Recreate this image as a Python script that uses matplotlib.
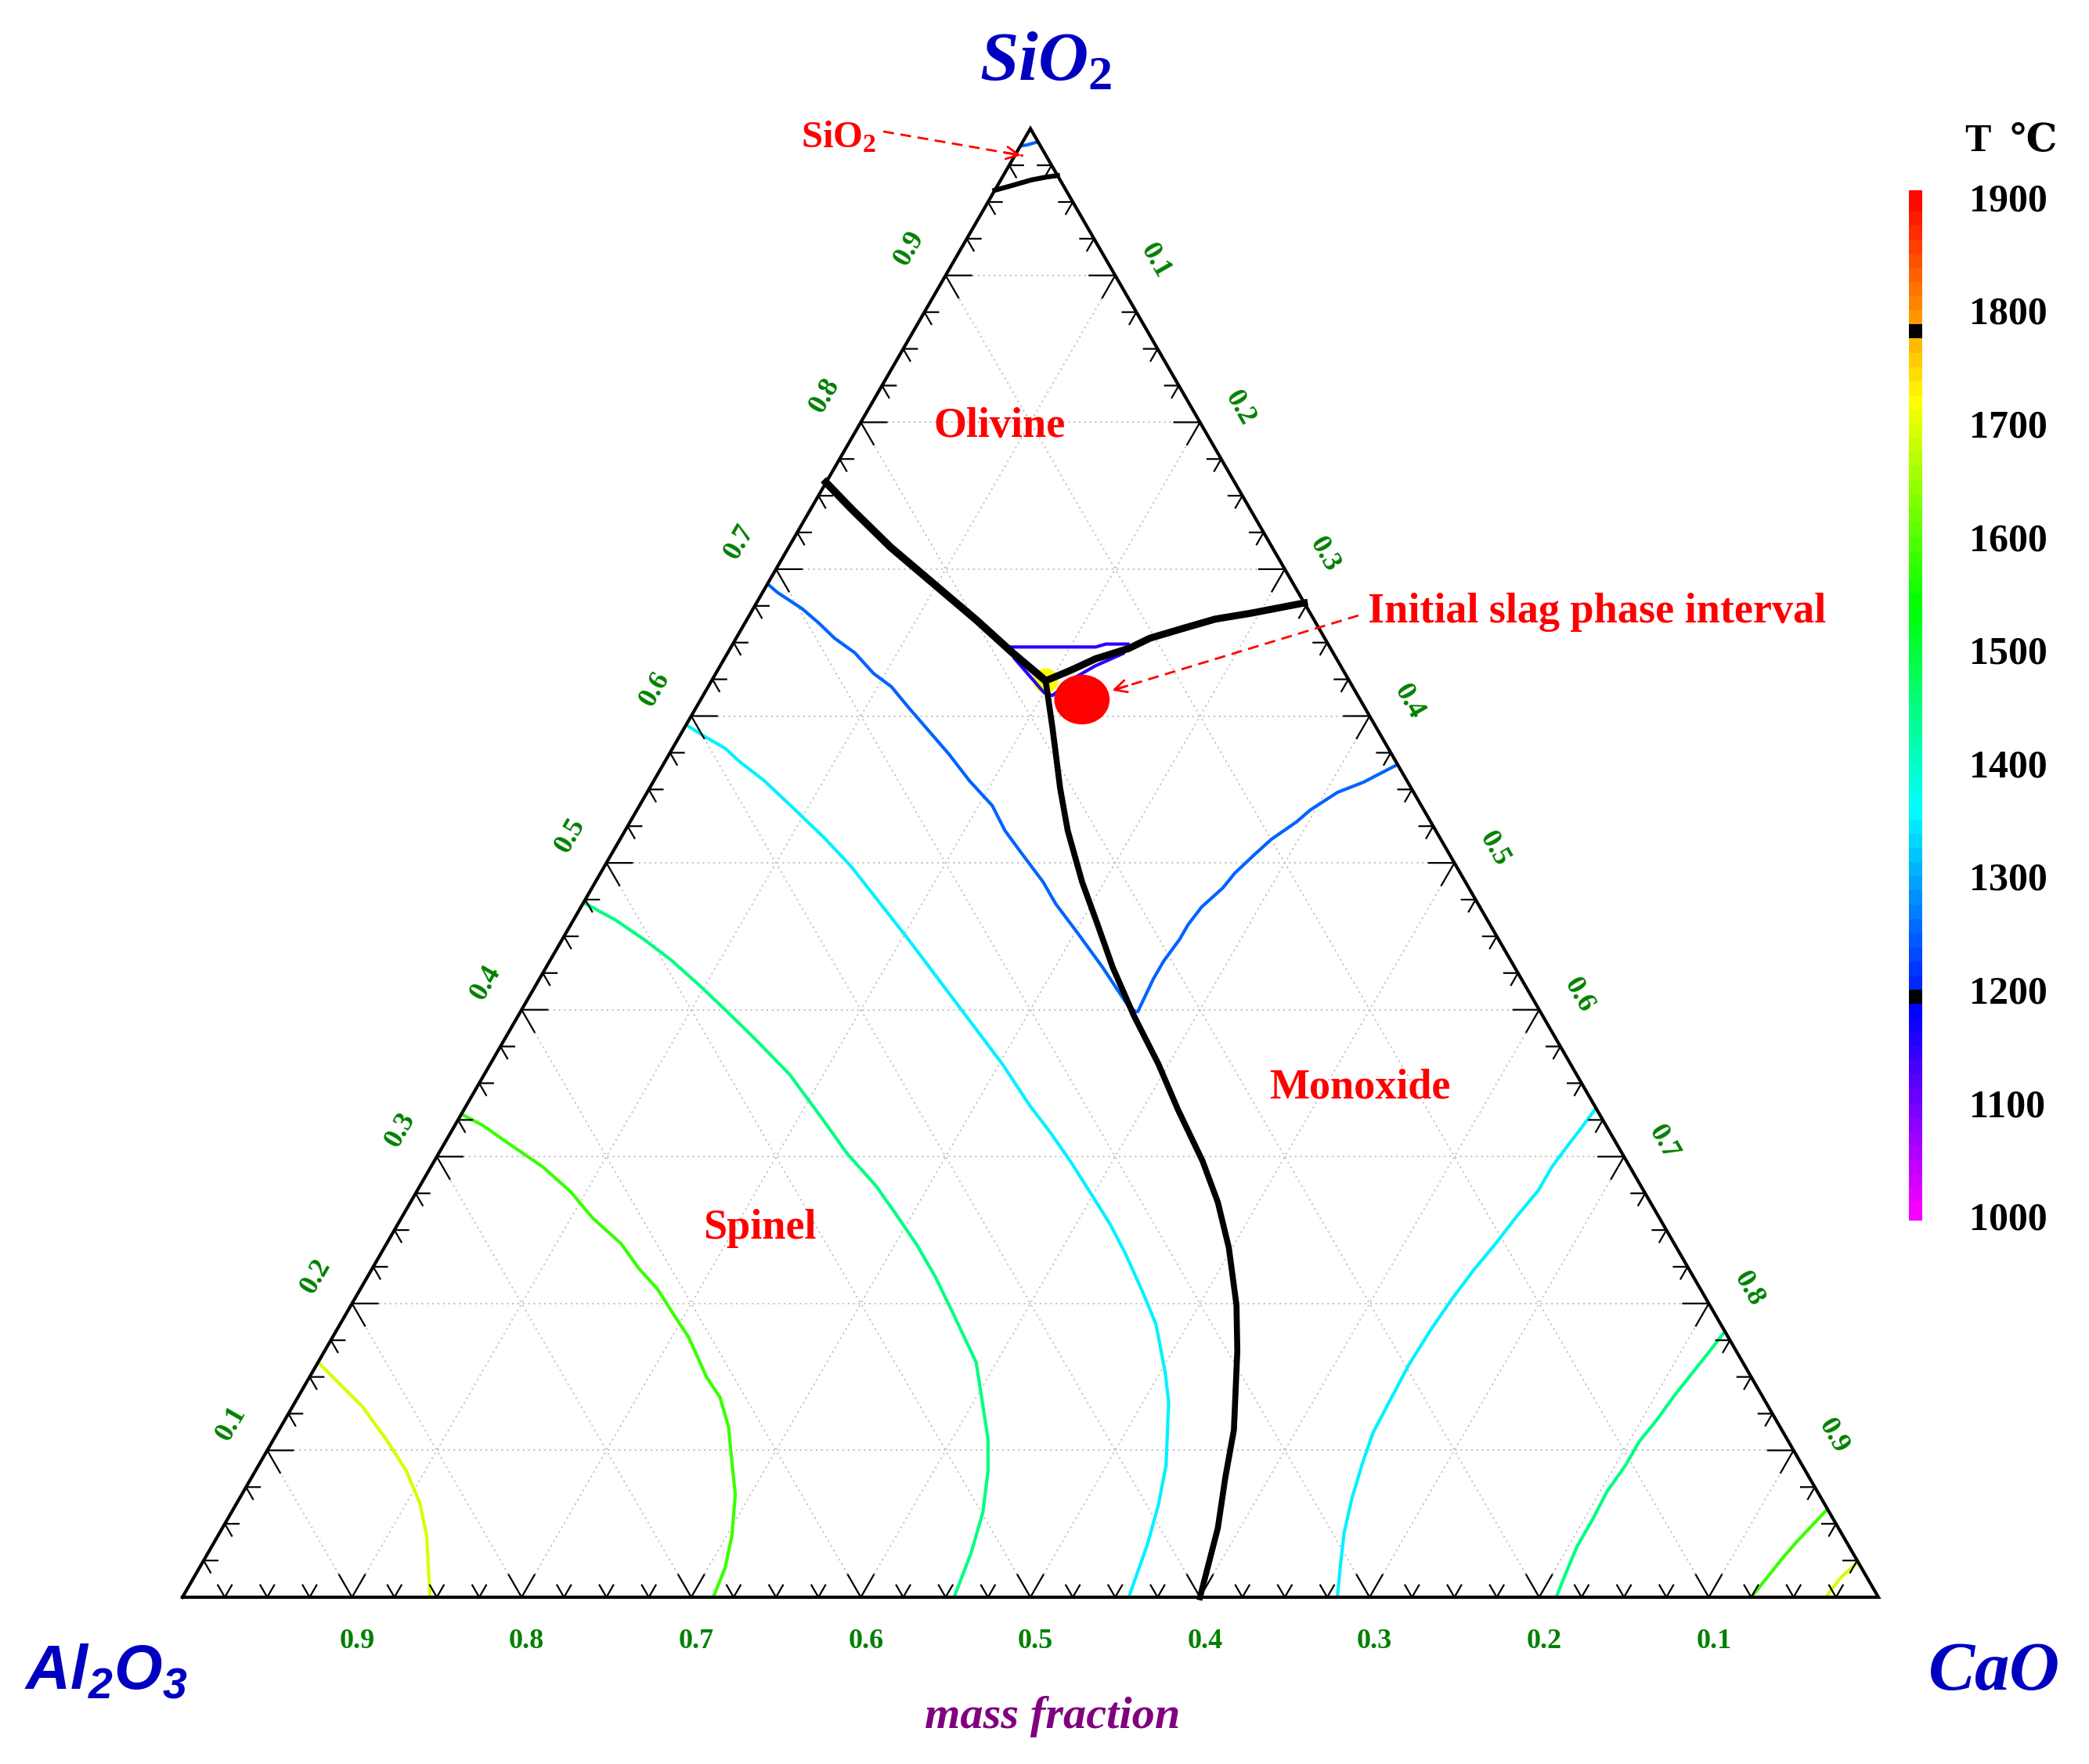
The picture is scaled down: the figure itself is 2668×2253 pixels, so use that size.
import numpy as np
import matplotlib
matplotlib.use("Agg")
import matplotlib.pyplot as plt
from matplotlib.colors import hsv_to_rgb
from matplotlib.patches import Ellipse

plt.rcParams['font.family'] = ['Liberation Serif', 'DejaVu Serif', 'DejaVu Sans']
plt.rcParams['mathtext.fontset'] = 'custom'
plt.rcParams['mathtext.it'] = 'Liberation Serif:italic:bold'
plt.rcParams['mathtext.rm'] = 'Liberation Serif:bold'
plt.rcParams['mathtext.sf'] = 'Liberation Sans:italic:bold'

# compositions as (CaO, SiO2) mass fractions, Al2O3 = 1 - CaO - SiO2

# phase boundaries (black)
bnd_sio2 = [(0.000, 0.958), (0.008, 0.961), (0.018, 0.965), (0.026, 0.967), (0.032, 0.968)]
bnd_olv_spl = [(0.000, 0.759), (0.024, 0.741), (0.060, 0.715), (0.098, 0.690),
               (0.136, 0.665), (0.168, 0.643), (0.197, 0.624)]
bnd_olv_mono = [(0.197, 0.624), (0.208, 0.631), (0.219, 0.639), (0.235, 0.646), (0.244, 0.653),
                (0.261, 0.660), (0.276, 0.666), (0.295, 0.670), (0.323, 0.677)]
bnd_spl_mono = [(0.197, 0.624), (0.207, 0.608), (0.217, 0.592), (0.228, 0.574), (0.242, 0.551),
                (0.261, 0.522), (0.287, 0.487), (0.309, 0.460), (0.334, 0.429), (0.363, 0.396),
                (0.394, 0.363), (0.421, 0.332), (0.453, 0.297), (0.476, 0.269), (0.498, 0.238),
                (0.522, 0.199), (0.538, 0.168), (0.563, 0.114), (0.574, 0.082), (0.587, 0.047),
                (0.600, 0.000)]

# isotherms
iso1150_a = [(0.164, 0.647), (0.215, 0.647), (0.220, 0.649), (0.234, 0.649)]
iso1150_b = [(0.170, 0.640), (0.200, 0.616), (0.206, 0.614), (0.214, 0.627), (0.221, 0.634),
             (0.234, 0.643)]
iso1250_top = [(0.000, 0.988), (0.004, 0.989), (0.009, 0.991)]
iso1250_spl = [(0.000, 0.690), (0.009, 0.684), (0.029, 0.673), (0.044, 0.663), (0.058, 0.653),
               (0.075, 0.643), (0.093, 0.629), (0.108, 0.620), (0.125, 0.606), (0.150, 0.586),
               (0.165, 0.574), (0.186, 0.556), (0.208, 0.539), (0.224, 0.522), (0.241, 0.507),
               (0.264, 0.487), (0.279, 0.472), (0.302, 0.452), (0.328, 0.429), (0.357, 0.402),
               (0.364, 0.398)]
iso1250_mono = [(0.364, 0.398), (0.362, 0.421), (0.362, 0.433), (0.364, 0.448), (0.364, 0.458),
                (0.366, 0.470), (0.372, 0.483), (0.374, 0.493), (0.379, 0.505), (0.384, 0.516),
                (0.393, 0.528), (0.397, 0.536), (0.407, 0.548), (0.419, 0.555), (0.433, 0.567)]
iso1350_spl = [(0.000, 0.594), (0.015, 0.586), (0.031, 0.578), (0.044, 0.569), (0.065, 0.556),
               (0.092, 0.537), (0.120, 0.517), (0.145, 0.498), (0.171, 0.476), (0.204, 0.448),
               (0.302, 0.363), (0.332, 0.335), (0.354, 0.316), (0.375, 0.297), (0.396, 0.277),
               (0.420, 0.254), (0.439, 0.234), (0.463, 0.207), (0.481, 0.186), (0.503, 0.153),
               (0.515, 0.133), (0.535, 0.090), (0.544, 0.063), (0.551, 0.036), (0.558, 0.000)]
iso1350_mono = [(0.667, 0.333), (0.665, 0.319), (0.663, 0.307), (0.661, 0.293), (0.661, 0.277),
                (0.657, 0.259), (0.654, 0.241), (0.650, 0.223), (0.647, 0.203), (0.645, 0.182),
                (0.644, 0.158), (0.645, 0.135), (0.646, 0.112), (0.650, 0.092), (0.656, 0.067),
                (0.663, 0.044), (0.671, 0.024), (0.681, 0.000)]
iso1450_spl = [(0.000, 0.473), (0.025, 0.461), (0.048, 0.448), (0.071, 0.434), (0.096, 0.417),
               (0.120, 0.400), (0.145, 0.382), (0.180, 0.356), (0.213, 0.327), (0.241, 0.302),
               (0.269, 0.280), (0.289, 0.262), (0.313, 0.240), (0.335, 0.218), (0.358, 0.193),
               (0.388, 0.160), (0.421, 0.108), (0.432, 0.086), (0.443, 0.058), (0.450, 0.030),
               (0.455, 0.000)]
iso1450_mono = [(0.819, 0.181), (0.817, 0.169), (0.814, 0.153), (0.811, 0.137), (0.809, 0.121),
                (0.806, 0.106), (0.806, 0.090), (0.804, 0.072), (0.805, 0.053), (0.805, 0.035),
                (0.807, 0.020), (0.810, 0.000)]
iso1580_spl = [(0.000, 0.329), (0.017, 0.321), (0.036, 0.310), (0.066, 0.293), (0.091, 0.276),
               (0.113, 0.258), (0.138, 0.241), (0.157, 0.224), (0.175, 0.210), (0.195, 0.191),
               (0.210, 0.177), (0.234, 0.150), (0.249, 0.136), (0.264, 0.116), (0.278, 0.092),
               (0.291, 0.070), (0.303, 0.042), (0.310, 0.020), (0.313, 0.000)]
iso1580_mono = [(0.940, 0.060), (0.933, 0.038), (0.930, 0.026), (0.928, 0.015), (0.925, 0.000)]
iso1690_spl = [(0.000, 0.160), (0.015, 0.149), (0.041, 0.130), (0.068, 0.106), (0.089, 0.086),
               (0.108, 0.064), (0.123, 0.042), (0.146, 0.000)]
iso1690_mono = [(0.976, 0.024), (0.971, 0.013), (0.969, 0.000)]

isotherms = [(iso1150_a, 1150), (iso1150_b, 1150),
             (iso1250_top, 1250), (iso1250_spl, 1250), (iso1250_mono, 1250),
             (iso1350_spl, 1350), (iso1350_mono, 1350),
             (iso1450_spl, 1450), (iso1450_mono, 1450),
             (iso1580_spl, 1580), (iso1580_mono, 1580),
             (iso1690_spl, 1690), (iso1690_mono, 1690)]

triple_point = (0.197, 0.624)
slag_point = (0.2248, 0.6112)
sio2_field = (0.005, 0.9815)

tick_values = np.arange(1, 40) * 0.025
label_values = [0.1, 0.2, 0.3, 0.4, 0.5, 0.6, 0.7, 0.8, 0.9]
cbar_ticks = [1000, 1100, 1200, 1300, 1400, 1500, 1600, 1700, 1800, 1900]
cbar_marks = [(1187.5, 1200.0), (1775.0, 1787.5)]

H = np.sqrt(3) / 2


def tern(pts):
    p = np.asarray(pts, float).reshape(-1, 2)
    return p[:, 0] + p[:, 1] / 2, p[:, 1] * H


def tcolor(t):
    hue = np.clip(300.0 - (t - 1000.0) / 3.0, 0, 300) / 360.0
    return hsv_to_rgb([hue, 1.0, 1.0])


fig = plt.figure(figsize=(26.68, 22.53), dpi=100)
ax = fig.add_axes([0, 0, 1, 1])
ax.set_xlim(-233 / 2166, (2668 - 233) / 2166)
ax.set_ylim(-213 / 2166, 2040 / 2166)
ax.axis('off')

# dotted grid
for v in label_values:
    for seg in ([(0, v), (1 - v, v)], [(v, 0), (v, 1 - v)], [(1 - v, 0), (0, 1 - v)]):
        ax.plot(*tern(seg), ls=(0, (1, 2.5)), color='#bdbdbd', lw=1.4, zorder=1)

# frame
ax.plot(*tern([(0, 0), (1, 0), (0, 1), (0, 0)]), color='black', lw=3, zorder=6,
        solid_joinstyle='miter')

# ticks
tx, ty = [], []
for k, v in enumerate(tick_values, start=1):
    L = 0.0152 if k % 4 == 0 else 0.0082
    edges = [((v, 0.0), [(0.5, H), (-0.5, H)]),
             ((v / 2, v * H), [(1.0, 0.0), (0.5, -H)]),
             ((1 - v / 2, v * H), [(-1.0, 0.0), (-0.5, -H)])]
    for (px, py), arms in edges:
        for dx, dy in arms:
            tx += [px, px + dx * L, np.nan]
            ty += [py, py + dy * L, np.nan]
ax.plot(tx, ty, color='black', lw=1.6, zorder=6)

# tick labels
lab = dict(color='#008000', fontsize=26, fontweight='bold', ha='center', va='center',
           rotation_mode='anchor', zorder=7)
for v in label_values:
    ax.text(1 - v + 0.003, -0.026, f'{v:.1f}', **lab)
    ax.text(v / 2 - 0.0213, v * H + 0.0159, f'{v:.1f}', rotation=60, **lab)
    s = 1 - v
    ax.text(1 - s / 2 + 0.0233, s * H + 0.0084, f'{v:.1f}', rotation=-60, **lab)

# isotherms
for pts, t in isotherms:
    ax.plot(*tern(pts), color=tcolor(t), lw=3, zorder=3, solid_capstyle='butt')

# phase boundaries
ax.plot(*tern(bnd_sio2), color='black', lw=4.5, zorder=4)
ax.plot(*tern(bnd_olv_spl), color='black', lw=7, zorder=4)
ax.plot(*tern(bnd_olv_mono), color='black', lw=6.5, zorder=4)
ax.plot(*tern(bnd_spl_mono), color='black', lw=5.5, zorder=4)

# triple point and slag region
ax.plot(*tern(triple_point), 'o', ms=23, color=tcolor(1720), mec='none', zorder=2.5)
sx, sy = tern(slag_point)
ax.add_patch(Ellipse((sx[0], sy[0]), 0.032, 0.0287, color='red', zorder=5))

# phase labels
phase = dict(color='red', fontsize=39, fontweight='bold', zorder=7)
fig.text(0.4783, 0.7523, 'Olivine', ha='center', va='baseline', **phase)
fig.text(0.6511, 0.3777, 'Monoxide', ha='center', va='baseline', **phase)
fig.text(0.3636, 0.2978, 'Spinel', ha='center', va='baseline', **phase)
fig.text(0.6548, 0.6472, 'Initial slag phase interval', ha='left', va='baseline', **phase)
fig.text(0.3834, 0.9166, r'$\mathrm{SiO_2}$', color='red', fontsize=35, ha='left',
         va='baseline')


def dashed_arrow(start, end):
    ax.plot([start[0], end[0]], [start[1], end[1]], color='red', lw=2,
            ls=(0, (5, 3)), zorder=7)
    d = np.array(end) - np.array(start)
    d = d / np.hypot(*d)
    back = np.array(end) - d * 0.012
    ax.annotate('', xy=end, xytext=back,
                arrowprops=dict(arrowstyle='->', color='red', lw=2, mutation_scale=28),
                zorder=7)


dashed_arrow((0.6934, 0.5789), (sx[0] + 0.0165, sy[0] + 0.005))
fx, fy = tern(sio2_field)
dashed_arrow((0.4132, 0.8643), (fx[0], fy[0]))

# corner labels
fig.text(0.5007, 0.9547, r'$\mathit{SiO_2}$', color='#0000c0', fontsize=64,
         ha='center', va='baseline')
fig.text(0.0507, 0.0426, r'$\mathsf{Al_2O_3}$', color='#0000c0', fontsize=57,
         ha='center', va='baseline')
fig.text(0.9540, 0.0420, r'$\mathit{CaO}$', color='#0000c0', fontsize=64,
         ha='center', va='baseline')
fig.text(0.5038, 0.0204, 'mass fraction', color='#800080', fontsize=42,
         fontweight='bold', fontstyle='italic', ha='center', va='baseline')

# colour bar
cax = fig.add_axes([2438 / 2668, 1 - 1559 / 2253, 17 / 2668, (1559 - 243) / 2253])
lo, hi = 996, 1906
edges = np.arange(1000, 1900.01, 12.5)
centers = (edges[:-1] + edges[1:]) / 2
edges[0], edges[-1] = lo, hi
cols = []
for c in centers:
    black = any(a <= c <= b for a, b in cbar_marks)
    cols.append((0, 0, 0) if black else tcolor(c))
cax.bar(0.5, np.diff(edges), bottom=edges[:-1], width=1.0, color=cols, edgecolor='none')
cax.set_xlim(0, 1)
cax.set_ylim(lo, hi)
cax.set_xticks([])
cax.set_yticks(cbar_ticks)
cax.yaxis.tick_right()
cax.tick_params(axis='y', length=0, pad=43)
for t in cax.get_yticklabels():
    t.set_fontsize(36)
    t.set_fontweight('bold')
for sp in cax.spines.values():
    sp.set_visible(False)
fig.text(0.9629, 0.9148, 'T  \u2103', fontsize=36, fontweight='bold', ha='center',
         va='baseline')

fig.savefig('out.png', dpi=100)
